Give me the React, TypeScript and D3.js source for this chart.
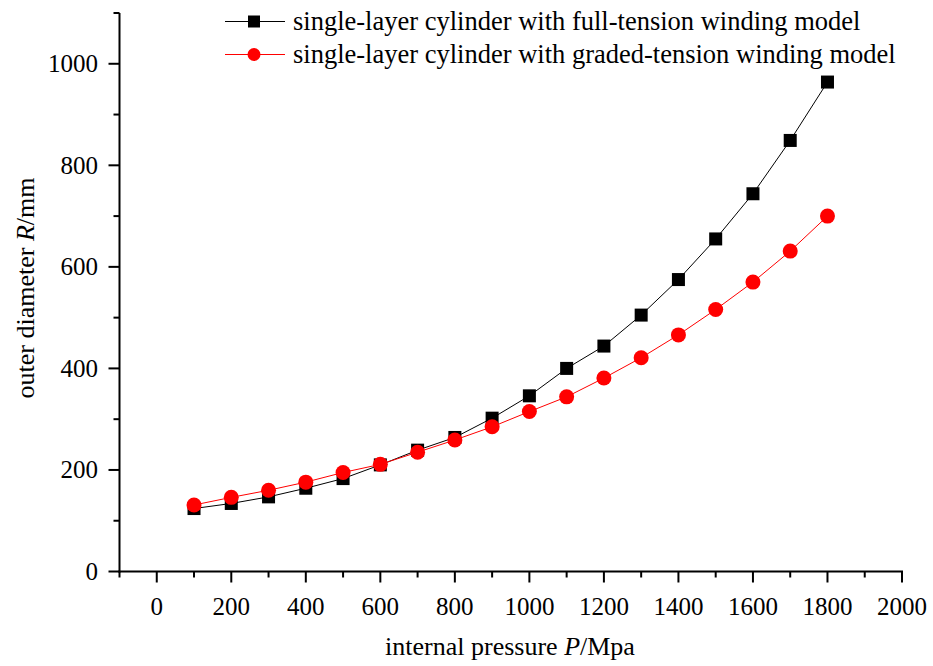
import React from "react";
import * as d3 from "d3";

const pressures = [100, 200, 300, 400, 500, 600, 700, 800, 900, 1000, 1100, 1200, 1300, 1400, 1500, 1600, 1700, 1800];
const fullTension = [124, 134, 147, 164, 183, 210, 239, 264, 302, 346, 400, 444, 505, 575, 655, 744, 849, 964];
const gradedTension = [131, 146, 160, 176, 195, 211, 235, 259, 285, 315, 344, 381, 421, 466, 516, 570, 631, 700];
const xTicks = [0, 200, 400, 600, 800, 1000, 1200, 1400, 1600, 1800, 2000];
const xMinorTicks = [-100, 100, 300, 500, 700, 900, 1100, 1300, 1500, 1700, 1900];
const yTicks = [0, 200, 400, 600, 800, 1000];
const yMinorTicks = [100, 300, 500, 700, 900, 1100];
const legendLabels = [
  "single-layer cylinder with full-tension winding model",
  "single-layer cylinder with graded-tension winding model",
];

const W = 933;
const H = 666;
const font = "'Liberation Serif', 'Times New Roman', serif";

export default function App() {
  const x = d3.scaleLinear().domain([-100, 2000]).range([119.5, 902]);
  const y = d3.scaleLinear().domain([0, 1100]).range([571.5, 13]);
  const line = d3
    .line<[number, number]>()
    .x((d) => x(d[0]))
    .y((d) => y(d[1]));
  const fullPts: [number, number][] = pressures.map((p, i) => [p, fullTension[i]]);
  const gradPts: [number, number][] = pressures.map((p, i) => [p, gradedTension[i]]);
  const x0 = x.range()[0];
  const y0 = y.range()[0];
  const sq = 13;

  return (
    <svg
      width={W}
      height={H}
      style={{ position: "absolute", left: 0, top: 0, background: "#fff" }}
      fontFamily={font}
    >
      <rect width={W} height={H} fill="#fff" />
      {/* data lines */}
      <path d={line(fullPts) || ""} fill="none" stroke="#000" strokeWidth={1} />
      <path d={line(gradPts) || ""} fill="none" stroke="#ff0000" strokeWidth={1} />
      {fullPts.map((d, i) => (
        <rect key={"s" + i} x={x(d[0]) - sq / 2} y={y(d[1]) - sq / 2} width={sq} height={sq} fill="#000" />
      ))}
      {gradPts.map((d, i) => (
        <circle key={"c" + i} cx={x(d[0])} cy={y(d[1])} r={7.5} fill="#ff0000" />
      ))}

      {/* axes */}
      <line x1={x0} x2={x0} y1={y.range()[1]} y2={y0 + 1} stroke="#000" strokeWidth={2} />
      <line x1={x0 - 1} x2={x(2000) + 1} y1={y0} y2={y0} stroke="#000" strokeWidth={2} />
      {xTicks.map((t) => (
        <g key={"xt" + t}>
          <line x1={x(t)} x2={x(t)} y1={y0} y2={y0 + 11} stroke="#000" strokeWidth={2} />
          <text x={x(t)} y={615} textAnchor="middle" fontSize={25} fill="#000">
            {t}
          </text>
        </g>
      ))}
      {xMinorTicks.map((t) => (
        <line key={"xm" + t} x1={x(t)} x2={x(t)} y1={y0} y2={y0 + 6} stroke="#000" strokeWidth={2} />
      ))}
      {yTicks.map((t) => (
        <g key={"yt" + t}>
          <line x1={x0 - 11} x2={x0} y1={y(t)} y2={y(t)} stroke="#000" strokeWidth={2} />
          <text x={98} y={y(t) + 8.5} textAnchor="end" fontSize={25} fill="#000">
            {t}
          </text>
        </g>
      ))}
      {yMinorTicks.map((t) => (
        <line key={"ym" + t} x1={x0 - 6} x2={x0} y1={y(t)} y2={y(t)} stroke="#000" strokeWidth={2} />
      ))}

      {/* axis titles */}
      <text x={510} y={655} textAnchor="middle" fontSize={26} fill="#000">
        internal pressure <tspan fontStyle="italic">P</tspan>/Mpa
      </text>
      <text
        transform={`translate(34, 288) rotate(-90)`}
        textAnchor="middle"
        fontSize={26}
        fill="#000"
      >
        outer diameter <tspan fontStyle="italic">R</tspan>/mm
      </text>

      {/* legend */}
      {legendLabels.map((lab, i) => {
        const ly = 21.5 + i * 33;
        return (
          <g key={"lg" + i}>
            <line x1={225} x2={285} y1={ly} y2={ly} stroke={i === 0 ? "#000" : "#ff0000"} strokeWidth={1} />
            {i === 0 ? (
              <rect x={254 - 6} y={ly - 6} width={12} height={12} fill="#000" />
            ) : (
              <circle cx={254} cy={ly} r={6.5} fill="#ff0000" />
            )}
            <text x={293} y={ly + 8} fontSize={26.5} fill="#000">
              {lab}
            </text>
          </g>
        );
      })}
    </svg>
  );
}
